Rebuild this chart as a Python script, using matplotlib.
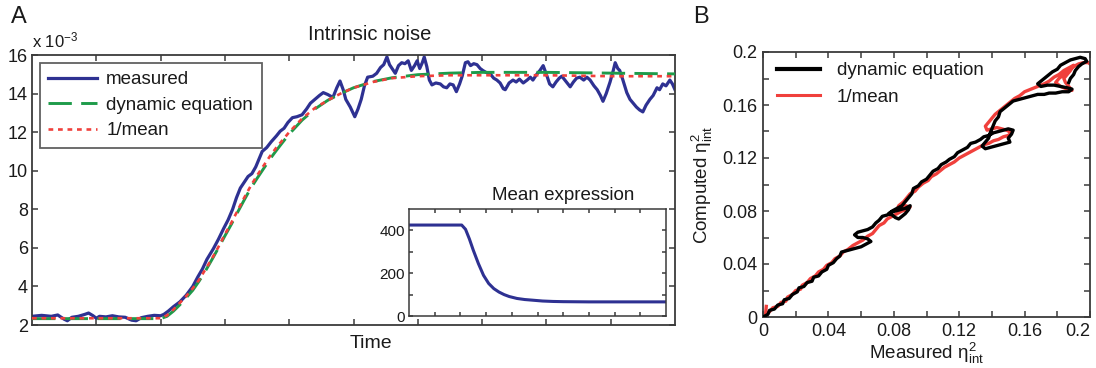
import matplotlib
matplotlib.use("Agg")
import matplotlib.pyplot as plt
from matplotlib.lines import Line2D

plt.rcParams['font.family'] = ['Liberation Sans', 'DejaVu Sans']
plt.rcParams['mathtext.fontset'] = 'custom'
plt.rcParams['mathtext.rm'] = 'Liberation Sans'
plt.rcParams['mathtext.it'] = 'Liberation Sans'

# ---------------- Panel A data (values x 1e-3) ----------------
t_measured = [0.00, 0.15, 0.30, 0.40, 0.50, 0.55, 0.62, 0.72, 0.82, 0.88, 0.95, 1.00, 1.05, 1.15,
              1.25, 1.35, 1.45, 1.55, 1.62, 1.70, 1.80, 1.90, 2.00, 2.05, 2.12, 2.20, 2.30, 2.40,
              2.50, 2.58, 2.65, 2.72, 2.82, 2.90, 2.98, 3.05, 3.12, 3.18, 3.24, 3.30, 3.36, 3.42,
              3.48, 3.53, 3.58, 3.65, 3.72, 3.80, 3.86, 3.92, 3.98, 4.05, 4.12, 4.20, 4.27, 4.33,
              4.40, 4.47, 4.53, 4.60, 4.68, 4.74, 4.79, 4.84, 4.88, 4.95, 5.02, 5.07, 5.12, 5.17,
              5.22, 5.30, 5.36, 5.42, 5.47, 5.52, 5.56, 5.60, 5.65, 5.70, 5.75, 5.80, 5.85, 5.90,
              5.95, 5.99, 6.03, 6.07, 6.10, 6.14, 6.18, 6.22, 6.28, 6.35, 6.40, 6.45, 6.50, 6.55,
              6.60, 6.65, 6.69, 6.74, 6.78, 6.82, 6.87, 6.92, 6.97, 7.01, 7.06, 7.12, 7.18, 7.23,
              7.28, 7.33, 7.36, 7.42, 7.48, 7.53, 7.58, 7.64, 7.70, 7.75, 7.79, 7.85, 7.90, 7.95,
              8.01, 8.05, 8.10, 8.15, 8.20, 8.24, 8.30, 8.37, 8.42, 8.47, 8.52, 8.58, 8.63, 8.68,
              8.74, 8.79, 8.84, 8.88, 8.93, 8.99, 9.04, 9.07, 9.11, 9.14, 9.19, 9.25, 9.30, 9.35,
              9.40, 9.45, 9.50, 9.55, 9.61, 9.66, 9.72, 9.76, 9.81, 9.86, 9.92, 9.96, 10.00]
measured = [2.45, 2.50, 2.45, 2.52, 2.30, 2.22, 2.40, 2.45, 2.55, 2.62, 2.48, 2.35, 2.45, 2.42,
            2.48, 2.42, 2.40, 2.25, 2.22, 2.38, 2.45, 2.50, 2.48, 2.55, 2.72, 2.95, 3.20, 3.55,
            4.00, 4.50, 4.90, 5.40, 5.95, 6.45, 7.00, 7.45, 8.00, 8.60, 9.10, 9.40, 9.70, 9.85,
            10.20, 10.60, 11.00, 11.20, 11.50, 11.80, 12.05, 12.20, 12.50, 12.75, 12.80, 12.90, 13.20, 13.50,
            13.70, 13.90, 14.05, 13.95, 13.80, 14.30, 14.65, 14.20, 13.70, 13.30, 12.80, 13.20, 13.70, 14.40,
            14.85, 14.90, 15.05, 15.35, 15.50, 15.90, 15.50, 15.30, 15.05, 15.45, 15.60, 15.55, 15.70, 15.20,
            15.45, 15.70, 15.30, 15.60, 15.90, 15.40, 14.70, 14.45, 14.55, 14.50, 14.35, 14.30, 14.50, 14.45,
            14.10, 14.50, 14.90, 15.60, 15.65, 15.45, 15.55, 15.50, 15.30, 15.20, 15.10, 15.05, 14.80, 14.70,
            14.55, 14.25, 14.20, 14.55, 14.70, 14.60, 14.75, 14.55, 14.70, 14.85, 14.70, 15.00, 15.20, 15.45,
            14.90, 14.50, 14.35, 14.60, 14.80, 14.90, 14.65, 14.35, 14.60, 14.80, 14.85, 14.70, 14.85, 14.70,
            14.40, 14.20, 13.90, 13.60, 14.00, 14.60, 15.20, 15.60, 15.30, 15.20, 14.70, 14.05, 13.70, 13.50,
            13.30, 13.15, 13.05, 13.40, 13.70, 13.90, 14.30, 14.20, 14.50, 14.40, 14.70, 14.50, 14.20]

t_model = [0, 2.0, 2.1, 2.2, 2.3, 2.4, 2.5, 2.6, 2.7, 2.8, 2.9, 3.0, 3.1, 3.2, 3.3, 3.4, 3.5,
           3.6, 3.7, 3.8, 3.9, 4.0, 4.2, 4.4, 4.6, 4.8, 5.0, 5.3, 5.6, 6.0, 6.5, 7.0, 8.0, 9.0, 10.0]
dynamic_eq = [2.33, 2.33, 2.45, 2.72, 3.05, 3.42, 3.80, 4.28, 4.82, 5.40, 6.00, 6.62, 7.22, 7.86,
              8.48, 9.08, 9.60, 10.10, 10.60, 11.05, 11.48, 11.90, 12.62, 13.20, 13.65, 14.00, 14.30,
              14.62, 14.82, 14.98, 15.06, 15.10, 15.10, 15.06, 15.02]
inv_mean = [2.35, 2.35, 2.50, 2.80, 3.15, 3.50, 3.90, 4.35, 4.90, 5.45, 6.05, 6.70, 7.30, 7.95,
            8.60, 9.20, 9.75, 10.25, 10.75, 11.20, 11.60, 12.00, 12.70, 13.25, 13.65, 14.00, 14.30,
            14.60, 14.80, 14.90, 14.95, 14.95, 14.95, 14.90, 14.90]

# inset: mean expression
t_mean = [0, 2.05, 2.2, 2.35, 2.5, 2.7, 2.9, 3.1, 3.3, 3.5, 3.7, 3.9, 4.2, 4.5, 4.8, 5.2,
          5.6, 6.0, 7.0, 8.0, 9.0, 10.0]
mean_expr = [425, 425, 405, 360, 308, 245, 190, 152, 128, 112, 100, 91, 82, 77, 74, 70,
             68, 67, 66, 66, 66, 66]

# ---------------- Panel B data: (measured, computed) pairs ----------------
dyn_path = [(0.000, 0.000), (0.003, 0.002), (0.004, 0.005), (0.007, 0.006), (0.009, 0.009),
            (0.012, 0.010), (0.013, 0.013), (0.016, 0.014), (0.018, 0.017), (0.021, 0.019),
            (0.022, 0.022), (0.025, 0.023), (0.027, 0.026), (0.030, 0.027), (0.031, 0.030),
            (0.034, 0.031), (0.036, 0.034), (0.039, 0.036), (0.040, 0.039), (0.043, 0.041),
            (0.045, 0.044), (0.047, 0.046), (0.048, 0.049), (0.051, 0.050), (0.054, 0.051),
            (0.057, 0.052), (0.060, 0.053), (0.063, 0.055), (0.066, 0.057), (0.064, 0.059),
            (0.061, 0.060), (0.058, 0.060), (0.056, 0.062), (0.058, 0.064), (0.061, 0.065),
            (0.064, 0.066), (0.067, 0.068), (0.069, 0.071), (0.071, 0.073), (0.073, 0.076),
            (0.076, 0.077), (0.078, 0.079), (0.081, 0.080), (0.084, 0.081), (0.087, 0.082),
            (0.090, 0.084), (0.089, 0.081), (0.087, 0.078), (0.085, 0.076), (0.083, 0.074),
            (0.081, 0.075), (0.079, 0.077), (0.077, 0.078), (0.079, 0.080), (0.082, 0.082),
            (0.085, 0.084), (0.087, 0.087), (0.089, 0.090), (0.091, 0.093), (0.092, 0.097),
            (0.095, 0.099), (0.097, 0.102), (0.100, 0.104), (0.102, 0.107), (0.104, 0.110),
            (0.107, 0.112), (0.109, 0.115), (0.112, 0.117), (0.114, 0.119), (0.117, 0.121),
            (0.119, 0.124), (0.122, 0.126), (0.125, 0.128), (0.127, 0.131), (0.130, 0.132),
            (0.133, 0.134), (0.135, 0.136), (0.138, 0.137), (0.141, 0.139), (0.144, 0.140),
            (0.147, 0.141), (0.150, 0.142), (0.153, 0.141), (0.152, 0.138), (0.150, 0.135),
            (0.151, 0.132), (0.148, 0.131), (0.145, 0.130), (0.142, 0.129), (0.139, 0.128),
            (0.136, 0.127), (0.134, 0.129), (0.136, 0.132), (0.138, 0.135), (0.139, 0.139),
            (0.140, 0.142), (0.141, 0.145), (0.142, 0.148), (0.144, 0.151), (0.145, 0.155),
            (0.147, 0.157), (0.149, 0.159), (0.151, 0.161), (0.153, 0.163), (0.156, 0.164),
            (0.159, 0.165), (0.162, 0.166), (0.165, 0.167), (0.168, 0.168), (0.172, 0.168),
            (0.175, 0.169), (0.179, 0.169), (0.183, 0.170), (0.187, 0.170), (0.189, 0.172),
            (0.186, 0.173), (0.182, 0.174), (0.178, 0.175), (0.174, 0.175), (0.170, 0.174),
            (0.168, 0.176), (0.171, 0.179), (0.174, 0.182), (0.177, 0.185), (0.180, 0.187),
            (0.182, 0.190), (0.185, 0.192), (0.188, 0.194), (0.191, 0.195), (0.194, 0.196),
            (0.197, 0.195), (0.198, 0.193), (0.195, 0.191), (0.193, 0.189), (0.191, 0.186),
            (0.190, 0.183), (0.188, 0.180), (0.187, 0.177)]
inv_path = [(0.002, 0.008), (0.0015, 0.0015), (0.004, 0.004), (0.006, 0.007), (0.009, 0.008),
            (0.011, 0.011), (0.014, 0.012), (0.015, 0.015), (0.018, 0.017), (0.020, 0.020),
            (0.023, 0.021), (0.024, 0.024), (0.027, 0.026), (0.029, 0.029), (0.032, 0.031),
            (0.034, 0.034), (0.037, 0.036), (0.039, 0.039), (0.042, 0.041), (0.044, 0.044),
            (0.047, 0.046), (0.049, 0.049), (0.052, 0.051), (0.055, 0.054), (0.058, 0.056),
            (0.061, 0.058), (0.064, 0.061), (0.067, 0.063), (0.069, 0.066), (0.071, 0.069),
            (0.074, 0.071), (0.076, 0.074), (0.079, 0.076), (0.082, 0.078), (0.085, 0.080),
            (0.088, 0.081), (0.090, 0.083), (0.087, 0.084), (0.084, 0.083), (0.082, 0.081),
            (0.083, 0.084), (0.086, 0.087), (0.088, 0.090), (0.090, 0.093), (0.093, 0.095),
            (0.095, 0.098), (0.098, 0.101), (0.101, 0.103), (0.103, 0.106), (0.106, 0.108),
            (0.109, 0.111), (0.111, 0.113), (0.114, 0.115), (0.117, 0.117), (0.120, 0.120),
            (0.123, 0.122), (0.126, 0.124), (0.129, 0.126), (0.132, 0.128), (0.135, 0.130),
            (0.138, 0.131), (0.141, 0.133), (0.144, 0.134), (0.147, 0.136), (0.150, 0.137),
            (0.152, 0.139), (0.149, 0.141), (0.146, 0.142), (0.143, 0.143), (0.140, 0.142),
            (0.137, 0.141), (0.136, 0.144), (0.138, 0.147), (0.140, 0.150), (0.142, 0.153),
            (0.145, 0.156), (0.148, 0.159), (0.151, 0.162), (0.154, 0.165), (0.157, 0.167),
            (0.160, 0.170), (0.164, 0.172), (0.168, 0.174), (0.172, 0.176), (0.175, 0.178),
            (0.178, 0.181), (0.181, 0.183), (0.184, 0.186), (0.187, 0.188), (0.190, 0.190),
            (0.188, 0.186), (0.186, 0.183), (0.184, 0.180), (0.185, 0.177), (0.187, 0.174),
            (0.189, 0.171), (0.186, 0.172), (0.182, 0.174), (0.179, 0.177), (0.181, 0.180),
            (0.184, 0.183), (0.187, 0.186), (0.190, 0.189), (0.193, 0.191), (0.196, 0.192),
            (0.199, 0.192), (0.200, 0.191)]

a_yticks = [2, 4, 6, 8, 10, 12, 14, 16]
a_xticks = [1, 2, 3, 4, 5, 6, 7, 8, 9]
inset_yticks = [0, 100, 200, 300, 400]
inset_yticklabels = ['0', '', '200', '', '400']
b_ticks = [0, 0.02, 0.04, 0.06, 0.08, 0.10, 0.12, 0.14, 0.16, 0.18, 0.20]
b_ticklabels = ['0', '', '0.04', '', '0.08', '', '0.12', '', '0.16', '', '0.2']

BLUE = '#2E3192'
GREEN = '#1E9B4A'
RED = '#F0403C'
SPINE = '#3a3a3a'
TXT = '#1a1a1a'

W, H = 1096, 368
fig = plt.figure(figsize=(W / 100, H / 100), dpi=100)


def box(x0, y0, x1, y1):
    return [x0 / W, 1 - y1 / H, (x1 - x0) / W, (y1 - y0) / H]


def style(ax, lw=1.3):
    for s in ax.spines.values():
        s.set_linewidth(lw)
        s.set_color(SPINE)
    ax.tick_params(direction='in', top=True, right=True, length=4, width=1.1,
                   color=SPINE, labelcolor=TXT)


# ---------- Panel A ----------
axA = fig.add_axes(box(32, 55, 675, 325))
axA.plot(t_measured, measured, color=BLUE, lw=2.3, zorder=2, label='measured')
axA.plot(t_model, dynamic_eq, color=GREEN, lw=2.1, dashes=(8, 3.2), zorder=3,
         label='dynamic equation')
axA.plot(t_model, inv_mean, color=RED, lw=1.9, dashes=(1.8, 1.8), zorder=4, label='1/mean')
axA.set_xlim(0, 10)
axA.set_ylim(2, 16)
axA.set_xticks(a_xticks)
axA.set_xticklabels([])
axA.set_yticks(a_yticks)
style(axA)
axA.tick_params(axis='y', labelsize=13, pad=3)
leg = axA.legend(loc='upper left', bbox_to_anchor=(0.012, 0.972), borderaxespad=0,
                 fontsize=13.5, frameon=True, fancybox=False, handlelength=2.6,
                 handletextpad=0.5, labelspacing=0.45, borderpad=0.45)
leg.get_frame().set_edgecolor(SPINE)
leg.get_frame().set_linewidth(1.3)
for txt in leg.get_texts():
    txt.set_color(TXT)

fig.text(370 / W, 1 - 35 / H, 'Intrinsic noise', ha='center', va='center', fontsize=14.5, color=TXT)
fig.text(32 / W, 1 - 40 / H, r'x 10$^{\mathregular{-3}}$', ha='left', va='center', fontsize=12, color=TXT)
fig.text(371 / W, 1 - 344 / H, 'Time', ha='center', va='center', fontsize=14, color=TXT)
fig.text(19 / W, 1 - 17 / H, 'A', ha='center', va='center', fontsize=17, color=TXT)
fig.text(701 / W, 1 - 17 / H, 'B', ha='center', va='center', fontsize=17, color=TXT)

# inset
axI = fig.add_axes(box(409, 209, 666, 316))
axI.plot(t_mean, mean_expr, color=BLUE, lw=2.2)
axI.set_xlim(0, 10)
axI.set_ylim(0, 500)
axI.set_xticks(a_xticks)
axI.set_xticklabels([])
axI.set_yticks(inset_yticks)
axI.set_yticklabels(inset_yticklabels)
style(axI, lw=1.1)
axI.tick_params(length=3, labelsize=11, pad=3)
fig.text(563 / W, 1 - 196 / H, 'Mean expression', ha='center', va='center', fontsize=13.5, color=TXT)

# ---------- Panel B ----------
axB = fig.add_axes(box(763, 52, 1090, 317))
inv_x = [p[0] for p in inv_path]
inv_y = [p[1] for p in inv_path]
dyn_x = [p[0] for p in dyn_path]
dyn_y = [p[1] for p in dyn_path]
axB.plot(inv_x, inv_y, color=RED, lw=2.4, zorder=2)
axB.plot(dyn_x, dyn_y, color='black', lw=2.4, zorder=3)
axB.set_xlim(0, 0.2)
axB.set_ylim(0, 0.2)
axB.set_xticks(b_ticks)
axB.set_xticklabels(b_ticklabels)
axB.set_yticks(b_ticks)
axB.set_yticklabels(b_ticklabels)
style(axB)
axB.tick_params(labelsize=13, pad=4)
axB.get_xticklabels()[-1].set_horizontalalignment('right')
eta_lbl = r'$\mathregular{\eta^{2}_{int}}$'
axB.set_xlabel('Measured ' + eta_lbl, fontsize=13.5, color=TXT, labelpad=1)
axB.set_ylabel('Computed ' + eta_lbl, fontsize=13.5, color=TXT, labelpad=5)
legB = axB.legend([Line2D([], [], color='black', lw=3.0), Line2D([], [], color=RED, lw=2.2)],
                  ['dynamic equation', '1/mean'], loc='upper left',
                  bbox_to_anchor=(0.02, 0.99), borderaxespad=0, frameon=False,
                  fontsize=13.5, handlelength=2.3, handletextpad=0.9, labelspacing=0.5)
for txt in legB.get_texts():
    txt.set_color(TXT)

fig.savefig('out.png', dpi=100)
